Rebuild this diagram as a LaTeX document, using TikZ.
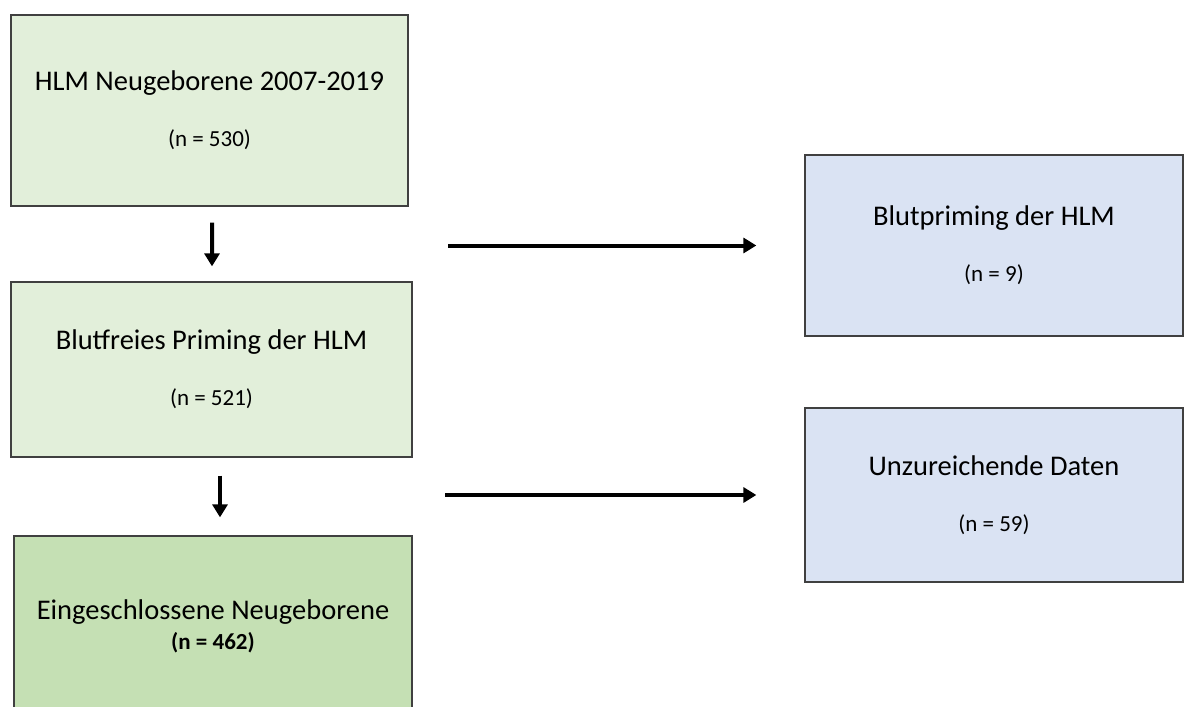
\documentclass[tikz,border=0pt]{standalone}
\usepackage{fontspec}
\setmainfont{Carlito}
\usetikzlibrary{arrows.meta}
\definecolor{palegreen}{HTML}{E2EFDA}
\definecolor{midgreen}{HTML}{C5E0B4}
\definecolor{paleblue}{HTML}{DAE3F3}
\definecolor{boxline}{HTML}{404040}
\newcommand{\bigline}[1]{{\fontsize{28.5bp}{33bp}\selectfont #1}}
\begin{document}
\begin{tikzpicture}%
[x=1bp,y=-1bp,box/.style={draw=boxline, line width=1.3bp, align=center, inner sep=0pt, font=\fontsize{23bp}{28bp}\selectfont},%
greenbox/.style={box, fill=palegreen},%
bluebox/.style={box, fill=paleblue},%
flow/.style={line width=4bp, -{Triangle[length=13bp,width=15bp]}}]
\useasboundingbox[fill=white] (0,0) rectangle (1192,707);
\clip (0,0) rectangle (1192,707);
% left column
\node[greenbox, minimum width=397bp, minimum height=191bp] (b1) at (209.5,110.5)
  {\bigline{HLM Neugeborene 2007-2019}\\[28bp] (n = 530)};
\node[greenbox, minimum width=401bp, minimum height=175bp] (b2) at (211.5,369.5)
  {\bigline{Blutfreies Priming der HLM}\\[28bp] (n = 521)};
\node[box, fill=midgreen, minimum width=398bp, minimum height=181bp] (b3) at (213,626.5)
  {\bigline{Eingeschlossene Neugeborene}\\[2bp] \textbf{(n = 462)}};
% right column
\node[bluebox, minimum width=378bp, minimum height=181bp] (r1) at (994,245.5)
  {\bigline{Blutpriming der HLM}\\[28bp] (n = 9)};
\node[bluebox, minimum width=378bp, minimum height=174bp] (r2) at (994,495)
  {\bigline{Unzureichende Daten}\\[28bp] (n = 59)};
\coordinate (s1) at (448,245.5);
\coordinate (s2) at (445,495);
\draw[flow, shorten <=16bp, shorten >=15bp] ([xshift=2.5bp]b1.south) -- ([xshift=0.5bp]b2.north);
\draw[flow, shorten <=18bp, shorten >=18bp] ([xshift=8.5bp]b2.south) -- ([xshift=7bp]b3.north);
\draw[flow, shorten >=48bp] (s1) -- (r1.west);
\draw[flow, shorten >=48bp] (s2) -- (r2.west);
\end{tikzpicture}
\end{document}
